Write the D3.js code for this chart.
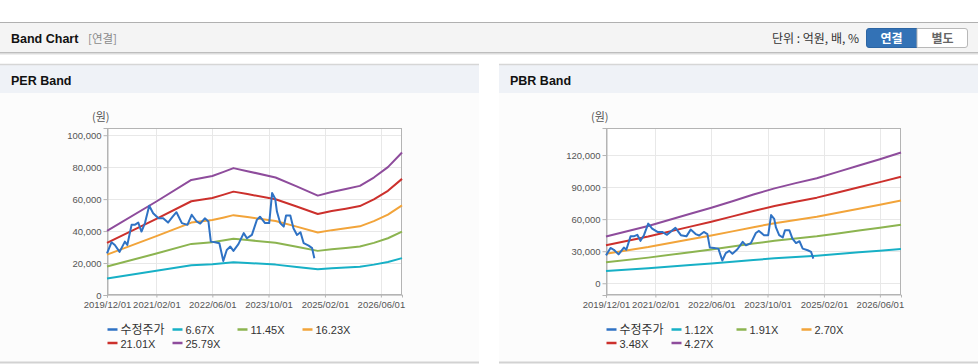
<!DOCTYPE html>
<html><head><meta charset="utf-8">
<script src="https://cdn.jsdelivr.net/npm/d3@7"></script>
<style>html,body{margin:0;padding:0;background:#fff;}svg{display:block;}</style>
</head><body>
<svg id="c" width="978" height="364"></svg>
<script>
// ---------- DATA ----------
const priceDates = ["2019-12-01","2020-01-09","2020-02-07","2020-03-19","2020-05-04","2020-05-25","2020-07-01","2020-07-28","2020-08-28","2020-09-25","2020-10-25","2020-12-01","2021-01-04","2021-02-19","2021-04-01","2021-05-13","2021-06-22","2021-07-25","2021-09-10","2021-10-28","2021-12-04","2022-01-16","2022-02-16","2022-03-28","2022-04-28","2022-05-19","2022-06-25","2022-08-01","2022-09-04","2022-10-04","2022-11-04","2022-12-01","2023-01-13","2023-02-28","2023-03-28","2023-05-10","2023-06-22","2023-07-19","2023-09-01","2023-10-07","2023-11-01","2023-11-28","2023-12-13","2024-01-10","2024-02-10","2024-03-01","2024-04-07","2024-05-04","2024-06-04","2024-07-04","2024-08-01","2024-09-13","2024-10-13","2024-11-01"];
const priceValues = [26100,33000,31300,27000,33400,31300,43900,43900,45300,39700,45000,55800,51200,48000,48000,45300,49000,51800,45000,43900,50200,46000,44700,48000,46000,33400,33000,32400,21300,28200,30300,27600,31800,38700,35500,37600,47000,49000,45000,45000,63800,60200,52200,45000,42800,49700,49700,41800,37600,39300,32400,30900,29300,23000];

const perBandDates = ["2019-12-01","2021-02-01","2021-12-01","2022-06-01","2022-09-01","2022-12-01","2023-04-01","2023-12-01","2024-06-01","2024-12-01","2025-04-01","2025-08-01","2025-12-01","2026-04-01","2026-08-01","2026-12-01"];
const perLabels = ["6.67X","11.45X","16.23X","21.01X","25.79X"];
const per667  = [10370,15130,18620,19270,19890,20540,20040,19010,17590,16090,16680,17150,17660,19010,20690,23070];
const per1145 = [17800,25970,31970,33080,34140,35250,34410,32630,30190,27610,28640,29440,30320,32630,35520,39600];
const per1623 = [25240,36810,45310,46880,48400,49970,48770,46250,42790,39140,40590,41720,42980,46250,50340,56130];
const per2101 = [32670,47660,58660,60690,62650,64680,63140,59880,55400,50670,52550,54010,55640,59880,65170,72670];
const per2579 = [40100,58500,72000,74500,76900,79400,77500,73500,68000,62200,64500,66300,68300,73500,80000,89200];

const pbrBandDates = ["2019-12-01","2020-12-01","2021-12-01","2022-06-01","2022-12-01","2023-06-01","2023-12-01","2024-06-01","2024-12-01","2025-06-01","2025-12-01","2026-06-01","2026-12-01"];
const pbrLabels = ["1.12X","1.91X","2.70X","3.48X","4.27X"];
const pbr112 = [11460,14060,17050,18540,20140,21770,23290,24580,25780,27330,28910,30450,32100];
const pbr191 = [19550,23980,29080,31620,34350,37130,39720,41910,43970,46610,49290,51930,54750];
const pbr270 = [27630,33890,41100,44710,48560,52480,56150,59250,62160,65890,69680,73410,77400];
const pbr348 = [35610,43680,52970,57620,62590,67640,72370,76360,80110,84920,89810,94620,99750];
const pbr427 = [43700,53600,65000,70700,76800,83000,88800,93700,98300,104200,110200,116100,122400];

const xTickDates = ["2019-12-01","2021-02-01","2022-06-01","2023-10-01","2025-02-01","2026-06-01"];
const xDomain = ["2019-12-01","2026-12-01"];
const perYTicks = [0,20000,40000,60000,80000,100000];
const pbrYTicks = [0,30000,60000,90000,120000];
const perYDomain = [0,104500];
const pbrYDomain = [-11000,145300];
const priceLabel = "수정주가";

const colors = {price:"#2f72c4", c1:"#17b0c6", c2:"#8cb450", c3:"#f2a43a", c4:"#cc302c", c5:"#8e4c9c"};
// ---------- DRAW ----------
const parse = d3.timeParse("%Y-%m-%d");
const svg = d3.select("#c");
const KR = "'Noto Sans CJK KR', 'Liberation Sans', sans-serif";
const LAT = "'Liberation Sans', Arial, sans-serif";

// header
svg.append("rect").attr("x",0).attr("y",22).attr("width",978).attr("height",31).attr("fill","#f4f4f4");
svg.append("line").attr("x1",0).attr("x2",978).attr("y1",22.5).attr("y2",22.5).attr("stroke","#b0b0b0");
svg.append("line").attr("x1",0).attr("x2",978).attr("y1",52.5).attr("y2",52.5).attr("stroke","#bdbdbd");
svg.append("line").attr("x1",0).attr("x2",978).attr("y1",53.5).attr("y2",53.5).attr("stroke","#dcdcdc");
svg.append("line").attr("x1",0).attr("x2",978).attr("y1",54.5).attr("y2",54.5).attr("stroke","#eeeeee");
svg.append("text").attr("x",11).attr("y",43).attr("font-family",LAT).attr("font-weight","bold").attr("font-size",12.5).attr("fill","#111").text("Band Chart");
svg.append("text").attr("x",88).attr("y",43).attr("font-family",KR).attr("font-size",11.5).attr("fill","#8a8a8a").text("[연결]");
svg.append("text").attr("x",859).attr("y",43).attr("text-anchor","end").attr("font-family",KR).attr("font-size",12).attr("fill","#333").text("단위 : 억원, 배, %");
// buttons
svg.append("path").attr("d","M869,28.5 H917 V47.5 H869 Q866.5,47.5 866.5,45 V31 Q866.5,28.5 869,28.5 Z").attr("fill","#3372b6").attr("stroke","#2c65a3");
svg.append("path").attr("d","M917,28.5 H965 Q967.5,28.5 967.5,31 V45 Q967.5,47.5 965,47.5 H917 Z").attr("fill","#fff").attr("stroke","#b8b8b8");
svg.append("text").attr("x",891.5).attr("y",42.5).attr("text-anchor","middle").attr("font-family",KR).attr("font-weight","bold").attr("font-size",12).attr("fill","#fff").text("연결");
svg.append("text").attr("x",942.5).attr("y",42.5).attr("text-anchor","middle").attr("font-family",KR).attr("font-weight","bold").attr("font-size",12).attr("fill","#666").text("별도");

function panel(px, pw, title){
  svg.append("rect").attr("x",px).attr("y",64).attr("width",pw).attr("height",29).attr("fill","#eff2f7");
  svg.append("line").attr("x1",px).attr("x2",px+pw).attr("y1",64.5).attr("y2",64.5).attr("stroke","#d6d6d6").attr("stroke-width",1.5);
  svg.append("rect").attr("x",px).attr("y",93).attr("width",pw).attr("height",269).attr("fill","#fcfcfc");
  svg.append("line").attr("x1",px).attr("x2",px+pw).attr("y1",362.5).attr("y2",362.5).attr("stroke","#d2d2d2").attr("stroke-width",2);
  svg.append("text").attr("x",px+11).attr("y",84.5).attr("font-family",LAT).attr("font-weight","bold").attr("font-size",12.5).attr("fill","#111").text(title);
}
panel(0,479,"PER Band");
panel(499,479,"PBR Band");

function chart(opt){
  const {x0,x1,y0,y1,yDomain,yTicks,bandDates,bands,labels} = opt;
  const x = d3.scaleTime().domain(xDomain.map(parse)).range([x0,x1]);
  const y = d3.scaleLinear().domain(yDomain).range([y1,y0]);
  const g = svg.append("g");
  g.append("rect").attr("x",x0).attr("y",y0).attr("width",x1-x0).attr("height",y1-y0).attr("fill","#fff");
  // grid
  g.append("g").selectAll("line").data(yTicks).join("line")
    .attr("x1",x0).attr("x2",x1).attr("y1",d=>Math.round(y(d))+0.5).attr("y2",d=>Math.round(y(d))+0.5).attr("stroke","#e8e8e8");
  g.append("g").selectAll("line").data(xTickDates.map(parse)).join("line")
    .attr("y1",y0).attr("y2",y1).attr("x1",d=>Math.round(x(d))+0.5).attr("x2",d=>Math.round(x(d))+0.5).attr("stroke","#e8e8e8");
  // border
  g.append("rect").attr("x",x0+0.5).attr("y",y0+0.5).attr("width",x1-x0-1).attr("height",y1-y0-1).attr("fill","none").attr("stroke","#b4b4b4");
  // axes
  const ya = d3.axisLeft(y).tickValues(yTicks).tickSize(4).tickPadding(2).tickFormat(d3.format(","));
  const yg = g.append("g").attr("transform",`translate(${x0+0.5},0)`).call(ya);
  yg.select(".domain").attr("stroke","#b4b4b4");
  yg.selectAll(".tick line").attr("stroke","#b4b4b4");
  yg.selectAll("text").attr("font-family",LAT).attr("font-size",9.5).attr("fill","#555");
  const xa = d3.axisBottom(x).tickValues(xTickDates.map(parse)).tickSize(3).tickPadding(4).tickFormat(d3.timeFormat("%Y/%m/%d"));
  const xg = g.append("g").attr("transform",`translate(0,${y1-0.5})`).call(xa);
  xg.select(".domain").attr("stroke","#b4b4b4");
  xg.selectAll(".tick line").attr("stroke","#b4b4b4");
  xg.selectAll("text").attr("font-family",LAT).attr("font-size",9.5).attr("fill","#555");
  g.append("text").attr("x",x0-15).attr("y",121).attr("font-family",KR).attr("font-size",11).attr("fill","#555").text("(원)");
  // lines
  const line = d3.line().x(d=>x(d[0])).y(d=>y(d[1]));
  const bcols = [colors.c1,colors.c2,colors.c3,colors.c4,colors.c5];
  const cg = g.append("g");
  bands.forEach((b,i)=>{
    cg.append("path").datum(bandDates.map((d,j)=>[parse(d),b[j]])).attr("d",line)
      .attr("fill","none").attr("stroke",bcols[i]).attr("stroke-width",2).attr("stroke-linejoin","round");
  });
  cg.append("path").datum(priceDates.map((d,j)=>[parse(d),priceValues[j]])).attr("d",line)
    .attr("fill","none").attr("stroke",colors.price).attr("stroke-width",2).attr("stroke-linejoin","round");
  // legend
  const items = [{t:priceLabel,c:colors.price,kr:true}].concat(labels.map((t,i)=>({t,c:bcols[i]})));
  items.forEach((it,i)=>{
    const col = i%4, row = Math.floor(i/4);
    const lx = x0 + 0.5 + col*65, ly = 330 + row*13.5;
    g.append("line").attr("x1",lx).attr("x2",lx+10).attr("y1",ly-0.5).attr("y2",ly-0.5).attr("stroke",it.c).attr("stroke-width",2.5);
    g.append("text").attr("x",lx+13).attr("y",ly+4).attr("font-family",it.kr?KR:LAT).attr("font-size",it.kr?12:11).attr("fill","#333").text(it.t);
  });
}
chart({x0:107,x1:402,y0:128,y1:295,yDomain:perYDomain,yTicks:perYTicks,bandDates:perBandDates,bands:[per667,per1145,per1623,per2101,per2579],labels:perLabels});
chart({x0:606,x1:901,y0:128,y1:295,yDomain:pbrYDomain,yTicks:pbrYTicks,bandDates:pbrBandDates,bands:[pbr112,pbr191,pbr270,pbr348,pbr427],labels:pbrLabels});
</script>
</body></html>
